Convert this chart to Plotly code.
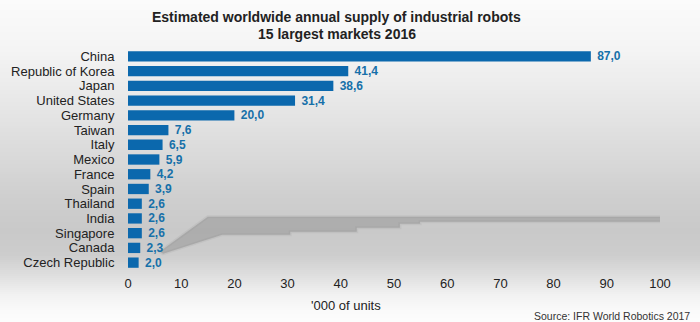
import plotly.graph_objects as go

# Estimated annual supply of industrial robots, 15 largest markets 2016 ('000 units)
countries = ["China", "Republic of Korea", "Japan", "United States", "Germany",
             "Taiwan", "Italy", "Mexico", "France", "Spain", "Thailand", "India",
             "Singapore", "Canada", "Czech Republic"]
units = [87.0, 41.4, 38.6, 31.4, 20.0, 7.6, 6.5, 5.9, 4.2, 3.9, 2.6, 2.6, 2.6, 2.3, 2.0]
x_ticks = [0, 10, 20, 30, 40, 50, 60, 70, 80, 90, 100]
title_lines = ["Estimated worldwide annual supply of industrial robots",
               "15 largest markets 2016"]
source_text = "Source: IFR World Robotics 2017"

W, H = 700, 322
M_L, M_R, M_T, M_B = 128, 40, 49, 52
plot_w = W - M_L - M_R
plot_h = H - M_T - M_B

BAR = "#0b68ad"
LABEL = "#1670a9"
TEXT = "#222222"
FONT = "Liberation Sans, Arial, sans-serif"

fig = go.Figure(go.Bar(
    x=units, y=countries, orientation="h",
    marker=dict(color=BAR, line=dict(width=0)),
    width=0.7,
    text=units, texttemplate=" %{x:.1f}", textposition="outside",
    constraintext="none",
    textfont=dict(family=FONT, size=12, color=LABEL, weight="bold"),
    cliponaxis=False,
))


def px_x(px):
    return (px - M_L) / plot_w


def px_y(py):
    return (H - M_B - py) / plot_h


# Vertical grey gradient behind the whole figure, built from thin overlapping strips
stops = [(0, 251), (50, 244), (100, 232), (150, 219), (200, 206), (232, 201),
         (255, 205), (275, 222), (295, 242), (310, 250), (322, 252)]


def grey_at(py):
    for (y0, g0), (y1, g1) in zip(stops, stops[1:]):
        if y0 <= py <= y1:
            t = (py - y0) / (y1 - y0)
            return g0 + (g1 - g0) * t
    return stops[-1][1]


shapes = []
step = 2
for py in range(0, H, step):
    g = int(round(grey_at(py + step / 2)))
    shapes.append(dict(type="rect", xref="paper", yref="paper",
                       x0=px_x(-2), x1=px_x(W + 2),
                       y0=px_y(py + step + 1), y1=px_y(py),
                       fillcolor=f"rgb({g},{g},{g})", line=dict(width=0), layer="below"))

# Soft floor shadow cast by the bars (a faint halo plus a core)
shadow = [(15.0, 10.89), (100.4, 10.89), (100.4, 11.23), (54.9, 11.23), (54.9, 11.36),
          (51.1, 11.36), (51.1, 11.63), (43.0, 11.63), (43.0, 11.90), (30.5, 11.90),
          (30.5, 12.10), (17.7, 12.10), (6.6, 13.39), (6.0, 13.25)]
path = "M " + " L ".join(f"{x},{y}" for x, y in shadow) + " Z"
shapes.append(dict(type="path", xref="x", yref="y", path=path,
                   fillcolor="rgba(120,120,120,0.0)",
                   line=dict(color="rgba(120,120,120,0.10)", width=3), layer="below"))
shapes.append(dict(type="path", xref="x", yref="y", path=path,
                   fillcolor="rgba(115,115,115,0.32)", line=dict(width=0), layer="below"))

annotations = [
    dict(text=f"<b>{title_lines[0]}</b>", xref="paper", yref="paper",
         x=px_x(336), y=px_y(17), xanchor="center", yanchor="middle", showarrow=False,
         font=dict(size=14, color=TEXT, family=FONT)),
    dict(text=f"<b>{title_lines[1]}</b>", xref="paper", yref="paper",
         x=px_x(337), y=px_y(34), xanchor="center", yanchor="middle", showarrow=False,
         font=dict(size=14, color=TEXT, family=FONT)),
    dict(text="'000 of units", xref="paper", yref="paper",
         x=px_x(346), y=px_y(305), xanchor="center", yanchor="middle", showarrow=False,
         font=dict(size=13, color=TEXT, family=FONT)),
    dict(text=source_text, xref="paper", yref="paper",
         x=px_x(692), y=px_y(316), xanchor="right", yanchor="middle", showarrow=False,
         font=dict(size=10.5, color="#333333", family=FONT)),
]

fig.update_layout(
    width=W, height=H,
    margin=dict(l=M_L, r=M_R, t=M_T, b=M_B),
    paper_bgcolor="white", plot_bgcolor="rgba(0,0,0,0)",
    separators=",.",
    showlegend=False,
    shapes=shapes,
    annotations=annotations,
    font=dict(family=FONT, color=TEXT, size=13),
    xaxis=dict(range=[0, 100], tickvals=x_ticks, showgrid=False, zeroline=False,
               showline=False, ticks="outside", ticklen=1, tickcolor="rgba(0,0,0,0)",
               tickfont=dict(size=13, color=TEXT), automargin=False),
    yaxis=dict(autorange="reversed", showgrid=False, zeroline=False, showline=False,
               tickmode="array", tickvals=countries,
               ticks="outside", ticklen=10, tickcolor="rgba(0,0,0,0)",
               tickfont=dict(size=13, color=TEXT), automargin=False),
)

fig.write_html("out.html")
